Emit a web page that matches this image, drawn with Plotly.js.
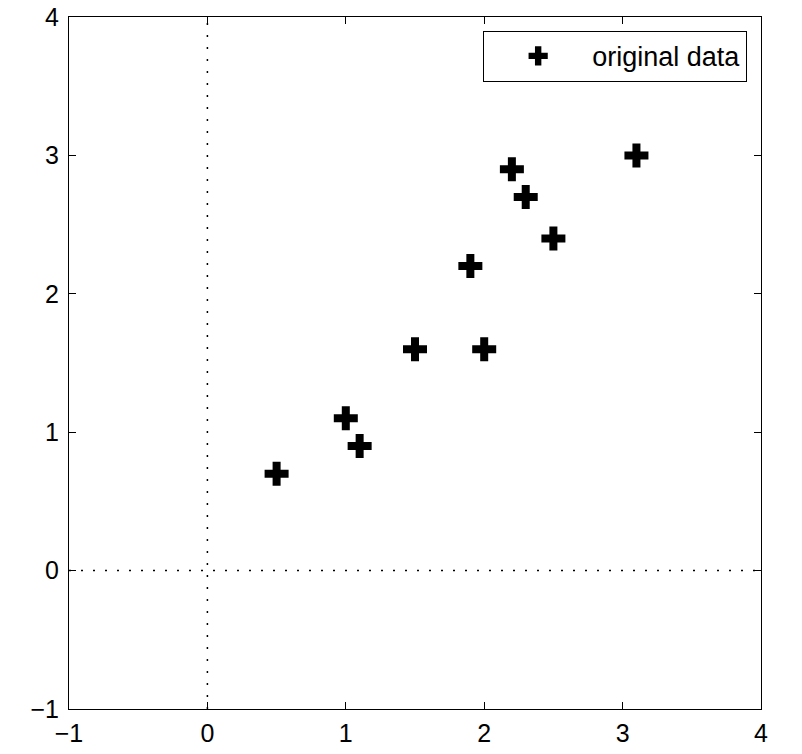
<!DOCTYPE html>
<html>
<head>
<meta charset="utf-8">
<script src="https://cdn.plot.ly/plotly-3.0.1.min.js"></script>
<style>
  html, body { margin: 0; padding: 0; background: #fff; }
  #chart { width: 802px; height: 754px; }
</style>
</head>
<body>
<div id="chart"></div>
<script>
// original data points
const x_values = [2.5, 0.5, 2.2, 1.9, 3.1, 2.3, 2.0, 1.0, 1.5, 1.1];
const y_values = [2.4, 0.7, 2.9, 2.2, 3.0, 2.7, 1.6, 1.1, 1.6, 0.9];
const tick_values = [-1, 0, 1, 2, 3, 4];
const tick_labels = ["\u22121", "0", "1", "2", "3", "4"];

const font_family = "Liberation Sans, Arial, sans-serif";

const axis_common = {
		range: [-1, 4],
		tickvals: tick_values,
		ticktext: tick_labels,
		ticks: "inside",
		ticklen: 7,
		tickwidth: 1,
		tickcolor: "#000",
		showgrid: false,
		zeroline: false,
		showline: true,
		linecolor: "#000",
		linewidth: 1,
		mirror: "ticks",
		tickfont: {family: font_family, size: 25, color: "#000"}
};

const chart_data = [{
		type: "scatter",
		mode: "markers",
		x: x_values,
		y: y_values,
		name: "original data",
		marker: {symbol: "cross", size: 20, color: "#000", line: {width: 0}}
}];

const chart_layout = {
		width: 802,
		height: 754,
		margin: {l: 69, r: 41, t: 17, b: 45},
		paper_bgcolor: "#fff",
		plot_bgcolor: "#fff",
		xaxis: Object.assign({ticklabelstandoff: 2}, axis_common),
		yaxis: Object.assign({ticklabelstandoff: 4}, axis_common),
		showlegend: true,
		legend: {
				x: 0.98,
				y: 0.98,
				xanchor: "right",
				yanchor: "top",
				bordercolor: "#000",
				borderwidth: 1,
				bgcolor: "#fff",
				font: {family: font_family, size: 27, color: "#000"},
				itemwidth: 98,
				tracegroupgap: 0
		},
		shapes: [
				{type: "line", xref: "x", yref: "paper", x0: 0, x1: 0, y0: 0, y1: 1,
				 line: {color: "#000", width: 1.5, dash: "2px,10px"}, layer: "below"},
				{type: "line", xref: "paper", yref: "y", x0: 0, x1: 1, y0: 0, y1: 0,
				 line: {color: "#000", width: 1.5, dash: "2px,10px"}, layer: "below"}
		]
};

Plotly.newPlot("chart", chart_data, chart_layout, {displayModeBar: false, staticPlot: true});
</script>
</body>
</html>
